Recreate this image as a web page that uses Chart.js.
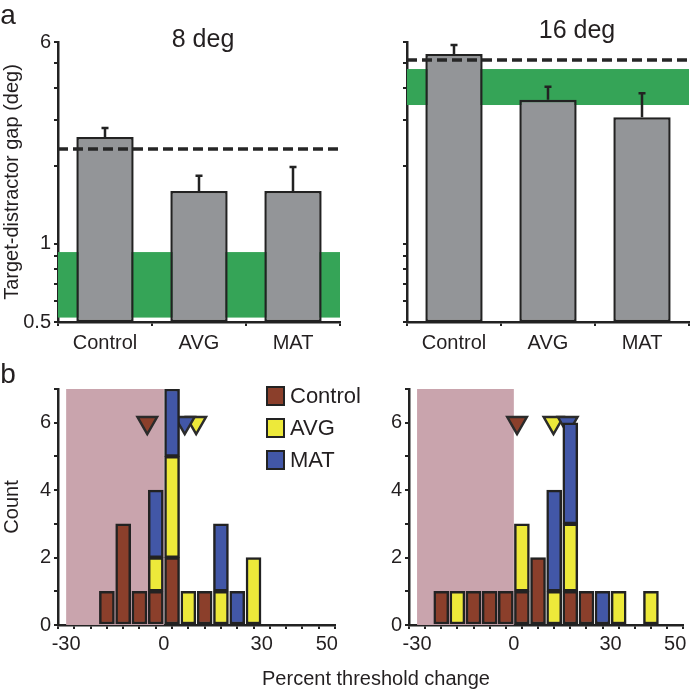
<!DOCTYPE html>
<html>
<head>
<meta charset="utf-8">
<script src="https://cdn.jsdelivr.net/npm/chart.js@4.4.1/dist/chart.umd.min.js"></script>
<style>
body{margin:0;background:#fff;width:697px;height:690px;position:relative;overflow:hidden;font-family:'Liberation Sans',Arial,sans-serif;color:#231f20}
.box{position:absolute}
.lbl{position:absolute;transform:translate(-50%,-50%);white-space:nowrap;line-height:1}
</style>
</head>
<body>
<div class="box" style="left:0;top:0"><canvas id="gap8" width="350" height="360"></canvas></div>
<div class="box" style="left:350px;top:0"><canvas id="gap16" width="347" height="360"></canvas></div>
<div class="box" style="left:350px;top:360px"><canvas id="hist16" width="347" height="330"></canvas></div>
<div class="box" style="left:0;top:360px"><canvas id="hist8" width="375" height="330"></canvas></div>
<div class="lbl" style="left:8px;top:15px;font-size:28px">a</div>
<div class="lbl" style="left:8px;top:374px;font-size:28px">b</div>
<div class="lbl" style="left:203px;top:38px;font-size:25px">8 deg</div>
<div class="lbl" style="left:577px;top:29px;font-size:25px">16 deg</div>
<div class="lbl" style="left:376px;top:678px;font-size:20px">Percent threshold change</div>
<script>
Chart.defaults.font.family = "'Liberation Sans', Arial, sans-serif"
Chart.defaults.font.size = 20
Chart.defaults.color = '#231f20'

// panel a
const groups = ['Control', 'AVG', 'MAT']
const gap8 = [2.58, 1.60, 1.60]
const gap8Err = [2.80, 1.83, 1.98]
const gap16 = [5.39, 3.59, 3.08]
const gap16Err = [5.84, 4.03, 3.81]
const dashed8 = 2.32
const dashed16 = 5.11
const green8 = [0.52, 0.93]
const green16 = [3.43, 4.72]
const gapTicks = [0.5, 0.6, 0.7, 0.8, 0.9, 1, 2, 3, 4, 5, 6]
const gapLabels = [0.5, 1, 6]

// panel b (5% bins)
const binMid = [-27.5, -22.5, -17.5, -12.5, -7.5, -2.5, 2.5, 7.5, 12.5, 17.5, 22.5, 27.5, 32.5, 37.5, 42.5, 47.5]
const ctl8 = [0, 0, 1, 3, 1, 1, 2, 0, 1, 0, 0, 0, 0, 0, 0, 0]
const avg8 = [0, 0, 0, 0, 0, 1, 3, 1, 0, 1, 0, 2, 0, 0, 0, 0]
const mat8 = [0, 0, 0, 0, 0, 2, 2, 0, 0, 2, 1, 0, 0, 0, 0, 0]
const ctl16 = [0, 1, 0, 1, 1, 1, 1, 2, 0, 1, 1, 0, 0, 0, 0, 0]
const avg16 = [0, 0, 1, 0, 0, 0, 2, 0, 1, 2, 0, 0, 1, 0, 1, 0]
const mat16 = [0, 0, 0, 0, 0, 0, 0, 0, 3, 3, 0, 1, 0, 0, 0, 0]
const mean8 = [-5.1, 9.9, 6.4]   // Control, AVG, MAT
const mean16 = [1.0, 12.3, 16.7]
const meanLevel = 6
const pctTicks = [-30, -25, -20, -15, -10, -5, 0, 5, 10, 15, 20, 25, 30, 35, 40, 45, 50]
const pctLabels = [-30, 0, 30, 50]
const countTicks = [0, 1, 2, 3, 4, 5, 6, 7]
const countLabels = [0, 2, 4, 6]

const colors = {Control: '#8b3f2b', AVG: '#ede93a', MAT: '#4257a7'}
const ink = '#222'

const panelDeco = {
  id: 'panelDeco',
  beforeDatasetsDraw(chart, args, opts) {
    const {ctx, chartArea: a, scales: {x, y}} = chart
    ctx.save()
    ;(opts.fills || []).forEach(f => {
      const x0 = f.x ? x.getPixelForValue(f.x[0]) : a.left
      const x1 = f.x ? x.getPixelForValue(f.x[1]) : a.right
      const y0 = y.getPixelForValue(f.y[0]), y1 = y.getPixelForValue(f.y[1])
      ctx.fillStyle = f.color
      ctx.fillRect(x0, y1, x1 - x0, y0 - y1)
    })
    ctx.restore()
  },
  afterDatasetsDraw(chart, args, opts) {
    const {ctx, chartArea: a, scales: {y}} = chart
    ctx.save()
    if (opts.errors) {
      ctx.strokeStyle = ink
      ctx.lineWidth = 2.5
      chart.getDatasetMeta(0).data.forEach((bar, i) => {
        const top = y.getPixelForValue(opts.errors[i])
        ctx.beginPath()
        ctx.moveTo(bar.x, bar.y)
        ctx.lineTo(bar.x, top)
        ctx.moveTo(bar.x - 3.5, top)
        ctx.lineTo(bar.x + 3.5, top)
        ctx.stroke()
      })
    }
    if (opts.dashed != null) {
      const yy = y.getPixelForValue(opts.dashed)
      ctx.setLineDash([10, 5])
      ctx.lineWidth = 3.5
      ctx.strokeStyle = '#262626'
      ctx.beginPath()
      ctx.moveTo(a.left, yy)
      ctx.lineTo(a.right, yy)
      ctx.stroke()
    }
    ctx.restore()
  },
  afterDraw(chart, args, opts) {
    if (!opts.legend) return
    const ctx = chart.ctx
    ctx.save()
    ctx.font = "22px 'Liberation Sans', Arial, sans-serif"
    ctx.textBaseline = 'middle'
    opts.legend.items.forEach((name, i) => {
      const top = opts.legend.y + i * 32
      ctx.fillStyle = colors[name]
      ctx.fillRect(opts.legend.x, top, 17, 18)
      ctx.strokeStyle = ink
      ctx.lineWidth = 2
      ctx.strokeRect(opts.legend.x, top, 17, 18)
      ctx.fillStyle = '#231f20'
      ctx.fillText(name, opts.legend.x + 23, top + 10)
    })
    ctx.restore()
  }
}

const axisGrid = {drawOnChartArea: false, color: ink, lineWidth: 2, tickLength: 4}
const axisBorder = {color: ink, width: 2.5}

function gapChart(id, vals, errs, dashed, band, showLabels, padRight, yWidth) {
  return new Chart(document.getElementById(id), {
    type: 'bar',
    data: {
      labels: groups,
      datasets: [{
        data: vals, backgroundColor: '#939598', borderColor: ink, borderWidth: 2.5,
        borderSkipped: false, categoryPercentage: 1, barPercentage: 0.61
      }]
    },
    options: {
      responsive: false, animation: false,
      layout: {padding: {left: 0, top: 42, right: padRight, bottom: 0}},
      plugins: {
        legend: {display: false}, tooltip: {enabled: false},
        panelDeco: {fills: [{y: band, color: '#35a457'}], errors: errs, dashed: dashed}
      },
      scales: {
        x: {
          grid: axisGrid, border: axisBorder,
          ticks: {padding: 5, font: {size: 20}},
          afterFit(s) { s.height = 38 }
        },
        y: {
          type: 'logarithmic', min: 0.5, max: 6,
          grid: axisGrid, border: axisBorder,
          ticks: {autoSkip: false, padding: 3, callback: v => showLabels && gapLabels.includes(v) ? String(v) : ''},
          afterBuildTicks(s) { s.ticks = gapTicks.map(v => ({value: v})) },
          title: {display: showLabels, text: 'Target-distractor gap (deg)', padding: 0, font: {size: 20}},
          afterFit(s) { s.width = yWidth }
        }
      }
    },
    plugins: [panelDeco]
  })
}

function histChart(id, ctl, avg, mat, means, showTitle, legend, padRight, yWidth) {
  const pts = arr => binMid.map((x, i) => ({x: x, y: arr[i]})).filter(p => p.y > 0)
  const bar = (label, arr) => ({
    type: 'bar', label: label, data: pts(arr), backgroundColor: colors[label],
    borderColor: ink, borderWidth: 2.5, borderSkipped: false, barThickness: 15,
    order: 0, yAxisID: 'y'
  })
  const mark = (label, m, order) => ({
    type: 'line', label: label, data: [{x: m, y: meanLevel}], showLine: false,
    pointStyle: 'triangle', pointRotation: 180, pointRadius: 11.3,
    pointBackgroundColor: colors[label], pointBorderColor: '#2b2b2b', pointBorderWidth: 2.5,
    order: order, yAxisID: 'yM'
  })
  return new Chart(document.getElementById(id), {
    type: 'bar',
    data: {
      datasets: [
        bar('Control', ctl), bar('AVG', avg), bar('MAT', mat),
        mark('MAT', means[2], 1), mark('AVG', means[1], 2), mark('Control', means[0], 3)
      ]
    },
    options: {
      responsive: false, animation: false,
      layout: {padding: {left: 0, top: 29, right: padRight, bottom: 0}},
      plugins: {
        legend: {display: false}, tooltip: {enabled: false},
        panelDeco: {fills: [{x: [-30, 0], y: [0, 7], color: '#c9a4ad'}], legend: legend}
      },
      scales: {
        x: {
          type: 'linear', min: -30, max: 50, stacked: true,
          grid: axisGrid, border: axisBorder,
          ticks: {autoSkip: false, maxRotation: 0, padding: 3, callback: v => pctLabels.includes(v) ? String(v) : ''},
          afterBuildTicks(s) { s.ticks = pctTicks.map(v => ({value: v})) },
          afterFit(s) { s.height = 65 }
        },
        y: {
          type: 'linear', min: 0, max: 7, stacked: true,
          grid: axisGrid, border: axisBorder,
          ticks: {autoSkip: false, padding: 3, callback: v => countLabels.includes(v) ? String(v) : ''},
          afterBuildTicks(s) { s.ticks = countTicks.map(v => ({value: v})) },
          title: {display: showTitle, text: 'Count', padding: 0, font: {size: 20}},
          afterFit(s) { s.width = yWidth }
        },
        yM: {type: 'linear', min: 0, max: 7, display: false}
      }
    },
    plugins: [panelDeco]
  })
}

gapChart('gap8', gap8, gap8Err, dashed8, green8, true, 10, 58)
gapChart('gap16', gap16, gap16Err, dashed16, green16, false, 8, 57)
histChart('hist8', ctl8, avg8, mat8, mean8, true, {x: 267, y: 27, items: ['Control', 'AVG', 'MAT']}, 40, 58)
histChart('hist16', ctl16, avg16, mat16, mean16, false, null, 12, 59)
</script>
</body>
</html>
